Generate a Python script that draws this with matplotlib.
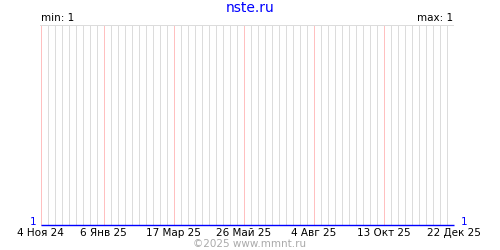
import matplotlib
matplotlib.use("Agg")
import matplotlib.pyplot as plt
import matplotlib.dates as mdates
import pandas as pd

# Data
series_dates = pd.to_datetime(["2024-11-04", "2025-12-22"])
series_values = [1, 1]
tick_dates = pd.to_datetime(["2024-11-04", "2025-01-06", "2025-03-17", "2025-05-26",
                             "2025-08-04", "2025-10-13", "2025-12-22"])
tick_labels = ["4 Ноя 24", "6 Янв 25", "17 Мар 25", "26 Май 25",
               "4 Авг 25", "13 Окт 25", "22 Дек 25"]
title = "nste.ru"
val_min = 1
val_max = 1

PX = 0.72  # one pixel in points at 100 dpi

fig = plt.figure(figsize=(5, 2.5), dpi=100)
# axes sized so that one day is one pixel and lines fall on pixel centres
ax = fig.add_axes([40 / 500, 24 / 250, 414 / 500, 201 / 250])

half_day = pd.Timedelta(hours=12)
ax.set_xlim(series_dates[0] - half_day, series_dates[-1] + half_day)
ax.set_ylim(1 - 0.5 / 200, 2 + 0.5 / 200)

# weekly grid, pink lines on labelled dates
ax.xaxis.set_minor_locator(mdates.WeekdayLocator(byweekday=mdates.MO))
ax.grid(True, which="minor", axis="x", color="#dcdcdc", lw=PX)
for d in tick_dates:
    ax.axvline(d, color="#ffc0c0", lw=PX, zorder=4)
ax.axhline(2, color="#dcdcdc", lw=PX, zorder=4)

ax.plot(series_dates, series_values, color="#0000ff", lw=PX * 1.4, zorder=5,
        solid_capstyle="butt", clip_on=False)

ax.set_xticks(tick_dates)
ax.set_xticklabels(tick_labels, fontsize=7.5)
ax.set_yticks([])
ax.tick_params(axis="x", which="both", length=0, pad=1.5)
for s in ax.spines.values():
    s.set_visible(False)

fig.text(0.5, 1 - 8 / 250, title, color="#0000ff", fontsize=10, ha="center", va="center")
fig.text(41 / 500, 1 - 18 / 250, f"min: {val_min}", fontsize=7.5, ha="left", va="center")
fig.text(453 / 500, 1 - 18 / 250, f"max: {val_max}", fontsize=7.5, ha="right", va="center")
fig.text(36 / 500, 1 - 222 / 250, str(val_min), color="#0000ff", fontsize=7.5, ha="right", va="center")
fig.text(461 / 500, 1 - 222 / 250, str(val_max), color="#0000ff", fontsize=7.5, ha="left", va="center")
fig.text(0.5, 1 - 244 / 250, "©2025 www.mmnt.ru", color="#aaaaaa", fontsize=7.5, ha="center", va="center")

fig.savefig("out.png", dpi=100)
